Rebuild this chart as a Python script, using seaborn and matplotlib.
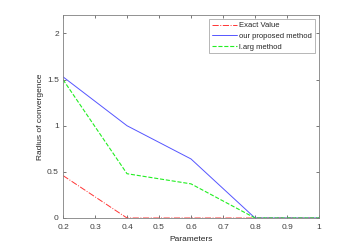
import matplotlib
matplotlib.use("Agg")
import matplotlib.pyplot as plt
from matplotlib.lines import Line2D
import seaborn as sns
import pandas as pd

params = [0.2, 0.4, 0.6, 0.8, 1.0]
exact_value = [0.46, 0.0, 0.0, 0.0, 0.0]
proposed = [1.53, 1.0, 0.64, 0.0, 0.0]
larg = [1.50, 0.48, 0.37, 0.0, 0.0]
labels = ["Exact Value", "our proposed method", "l.arg method"]

sns.set_style("white")
plt.rcParams['font.family'] = ['Liberation Sans', 'DejaVu Sans']

fig = plt.figure(figsize=(3.42, 2.46), dpi=100)
ax = fig.add_axes([63/342, 1 - 218/246, (319-63)/342, (218-15)/246])

df = pd.DataFrame({"x": params, "exact": exact_value, "prop": proposed, "larg": larg})
styles = [("exact", "#ff3333", "-.", 0.7), ("prop", "#5555ff", "-", 0.7), ("larg", "#22ee22", "--", 0.8)]
handles = []
for col, c, ls, lw in styles:
    sns.lineplot(data=df, x="x", y=col, ax=ax, color=c, linestyle=ls, lw=lw)
    handles.append(Line2D([], [], color=c, linestyle=ls, lw=lw))

ax.set_xlim(0.2, 1.0)
ax.set_ylim(0, 2.2)
ax.set_xticks([0.2, 0.3, 0.4, 0.5, 0.6, 0.7, 0.8, 0.9, 1.0])
ax.set_xticklabels(["0.2", "0.3", "0.4", "0.5", "0.6", "0.7", "0.8", "0.9", "1"])
ax.set_yticks([0, 0.5, 1, 1.5, 2])
ax.set_yticklabels(["0", "0.5", "1", "1.5", "2"])
ax.tick_params(direction="in", length=2.5, width=0.5, colors="#404040", labelsize=6,
               top=True, right=True, bottom=True, left=True)
ax.tick_params(axis="x", pad=4)
ax.tick_params(axis="y", pad=3)
for s in ax.spines.values():
    s.set_color("#808080")
    s.set_linewidth(0.6)
ax.set_xlabel("Parameters", fontsize=6, color="#262626", labelpad=4)
ax.set_ylabel("Radius of convergence", fontsize=6, color="#262626", labelpad=2)
leg = ax.legend(handles=handles, labels=labels, loc="upper right", fontsize=5.5,
                frameon=True, fancybox=False, edgecolor="#808080", handlelength=3.3,
                borderpad=0.35, labelspacing=0.45, handletextpad=0.3, borderaxespad=0.55)
leg.get_frame().set_linewidth(0.5)
fig.savefig("out.png", dpi=100)
